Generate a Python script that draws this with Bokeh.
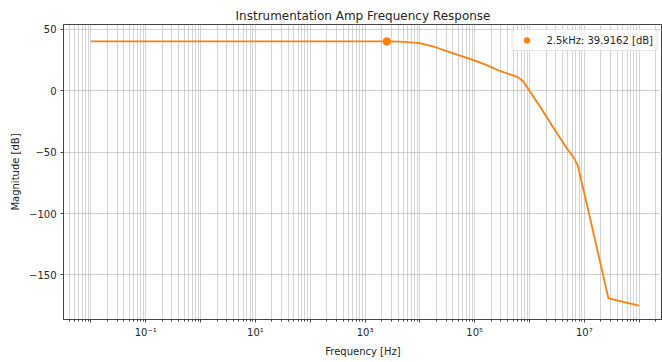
from bokeh.plotting import figure
from bokeh.models import (FixedTicker, CustomJSTickFormatter, Range1d, Legend, LegendItem)
from bokeh.embed import file_html
from bokeh.resources import INLINE

# ---- data ----
freq_hz = [1e-2, 1e-1, 1e0, 1e1, 1e2, 1e3, 2.5e3, 4.37e3, 1.0e4, 1.78e4, 3.55e4,
           7.24e4, 1.45e5, 2.95e5, 5.13e5, 6.3e5, 7.6e5, 8.9e5, 1.58e6, 2.75e6,
           4.79e6, 6.3e6, 7.59e6, 1.26e7, 1.95e7, 2.75e7, 1.0e8]
mag_db = [39.92, 39.92, 39.92, 39.92, 39.92, 39.92, 39.9162, 39.7, 38.5, 35.8, 31.1,
          26.6, 21.7, 15.7, 12.2, 10.5, 7.5, 3.0, -13.6, -30.5,
          -47.0, -54.0, -61.0, -103.0, -140.0, -169.0, -175.0]

marker_freq = [2.5e3]
marker_db = [39.9162]
marker_label = "2.5kHz: 39.9162 [dB]"

decade_ticks = [1e-2, 1e-1, 1e0, 1e1, 1e2, 1e3, 1e4, 1e5, 1e6, 1e7, 1e8]
decade_labels = ["", "10\u207b\u00b9", "", "10\u00b9", "", "10\u00b3", "", "10\u2075", "", "10\u2077", ""]
minor_subs = [2, 3, 4, 5, 6, 7, 8, 9]
y_ticks = [-150, -100, -50, 0, 50]

title_text = "Instrumentation Amp Frequency Response"
x_label = "Frequency [Hz]"
y_label = "Magnitude [dB]"

FONT = "DejaVu Sans"
TXT = "#262626"
ORANGE = "#ff7f0e"

p = figure(width=662, height=362, x_axis_type="log", output_backend="svg",
           toolbar_location=None,
           x_range=Range1d(10 ** -2.5, 10 ** 8.425),
           y_range=Range1d(-186.2, 53.7),
           min_border_left=63, min_border_right=0, min_border_top=24, min_border_bottom=43)

p.title.text = title_text
p.title.text_font = FONT
p.title.text_font_size = "12px"
p.title.text_font_style = "normal"
p.title.text_color = TXT
p.title.align = "center"
p.title.standoff = 4

minor = [s * d for d in [1e-3] + decade_ticks for s in minor_subs]
p.xaxis.ticker = FixedTicker(ticks=decade_ticks, minor_ticks=minor)
p.xaxis.formatter = CustomJSTickFormatter(args=dict(decs=decade_ticks, labs=decade_labels), code="""
    const lt = Math.log10(tick);
    for (let i = 0; i < decs.length; i++) {
        if (Math.abs(Math.log10(decs[i]) - lt) < 1e-6) return labs[i];
    }
    return "";
""")
p.yaxis.ticker = FixedTicker(ticks=y_ticks)
p.yaxis.formatter = CustomJSTickFormatter(code="""
    return tick.toFixed(0).replace("-", "\\u2212");
""")

for ax in (p.xaxis[0], p.yaxis[0]):
    ax.major_label_text_font = FONT
    ax.major_label_text_font_size = "10px"
    ax.major_label_text_color = TXT
    ax.axis_label_text_font = FONT
    ax.axis_label_text_font_size = "10px"
    ax.axis_label_text_font_style = "normal"
    ax.axis_label_text_color = TXT
    ax.axis_line_color = "#444444"
    ax.major_tick_line_color = "#444444"
    ax.minor_tick_line_color = "#444444"
    ax.major_tick_out = 3
    ax.major_tick_in = 0
    ax.minor_tick_out = 2
    ax.minor_tick_in = 0
    ax.major_label_standoff = 4
    ax.axis_label_standoff = 5
p.xaxis.axis_label = x_label
p.yaxis.axis_label = y_label
p.yaxis.minor_tick_line_color = None

p.xgrid.grid_line_color = "#b0b0b0"
p.xgrid.grid_line_alpha = 0.55
p.xgrid.minor_grid_line_color = "#b0b0b0"
p.xgrid.minor_grid_line_alpha = 0.55
p.ygrid.grid_line_color = "#b0b0b0"
p.ygrid.grid_line_alpha = 0.6

p.outline_line_color = "#444444"
p.outline_line_width = 1
p.background_fill_color = "white"
p.border_fill_color = "white"

p.line(freq_hz, mag_db, line_color=ORANGE, line_width=1.8)
pt = p.scatter(marker_freq, marker_db, size=7.5, color=ORANGE)

legend = Legend(items=[LegendItem(label=marker_label, renderers=[pt])],
                location="top_right", margin=5, padding=3, spacing=0,
                glyph_width=22, glyph_height=14, label_height=14, label_standoff=9,
                label_text_font=FONT, label_text_font_size="10px", label_text_color=TXT,
                border_line_color="#cccccc", border_line_width=1,
                background_fill_color="white", background_fill_alpha=0.8)
try:
    legend.border_radius = 3
except Exception:
    pass
p.add_layout(legend)

open("out.html", "w").write(file_html(p, INLINE))
